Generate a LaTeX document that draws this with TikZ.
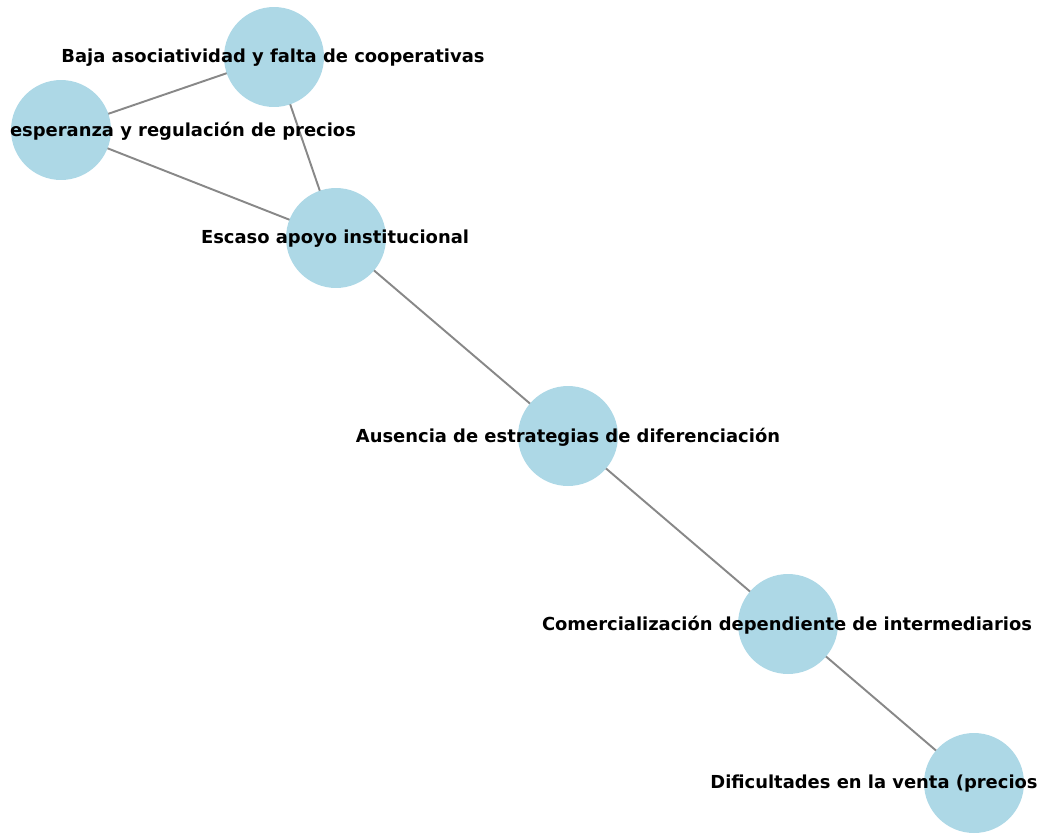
\documentclass[tikz,border=0pt]{standalone}
\usepackage{fontspec}
\setmainfont{DejaVu Sans}
\usepackage{tikz}
\usetikzlibrary{backgrounds}

\begin{document}
\begin{tikzpicture}[
  x=0.02cm, y=-0.02cm,
  every node/.style={align=center, font=\fontsize{10.2}{12}\selectfont\bfseries},
  vertex/.style={circle, fill={rgb,255:red,173;green,216;blue,230}, minimum size=2cm, inner sep=0pt},
  edge/.style={draw={rgb,255:red,136;green,136;blue,136}, line width=1.1pt}
]
\useasboundingbox (0,0) rectangle (1039,833);
\node[vertex] (baja) at (274,57) {};
\node[vertex] (desesp) at (61,130) {};
\node[vertex] (escaso) at (336,238) {};
\node[vertex] (ausencia) at (568,436) {};
\node[vertex] (comer) at (788,624) {};
\node[vertex] (dificul) at (974,783) {};
\begin{scope}[on background layer]
\draw[edge] (baja.center) -- (desesp.center);
\draw[edge] (baja.center) -- (escaso.center);
\draw[edge] (desesp.center) -- (escaso.center);
\draw[edge] (escaso.center) -- (ausencia.center);
\draw[edge] (ausencia.center) -- (comer.center);
\draw[edge] (comer.center) -- (dificul.center);
\end{scope}
\node (bajaL) at (273,58) {Baja asociatividad y falta de cooperativas};
\node (desespL) at (183,131) {esperanza y regulación de precios};
\node (escasoL) at (335,239) {Escaso apoyo institucional};
\node (ausenciaL) at (568,437) {Ausencia de estrategias de diferenciación};
\node (comerL) at (787,625) {Comercialización dependiente de intermediarios};
\node (dificulL) at (874,784) {Dificultades en la venta (precios};
\end{tikzpicture}
\end{document}
